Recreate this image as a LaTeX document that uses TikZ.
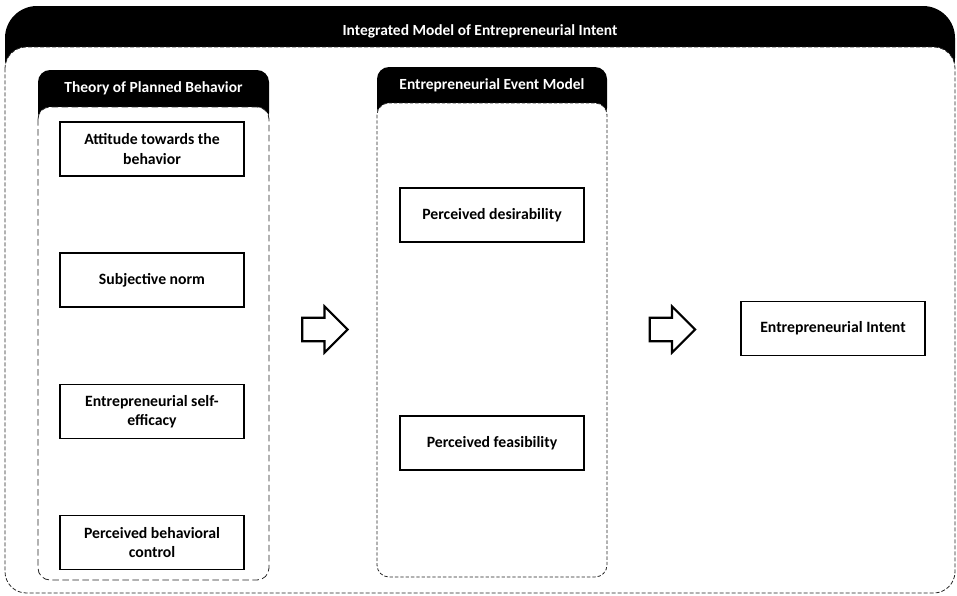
\documentclass[tikz,border=0pt]{standalone}
\usepackage{fontspec}
\setmainfont{Carlito}
\usetikzlibrary{shapes.arrows}
\tikzset{
  factor/.style={draw, line width=0.9pt, minimum width=138pt, minimum height=40.5pt,
    align=center, font=\bfseries\fontsize{11.8}{14.5}\selectfont, inner sep=2pt},
  headline/.style={text=white, font=\bfseries\fontsize{11.6}{14}\selectfont},
  frame/.style={draw=black!85, fill=white, line width=0.6pt},
  flow/.style={single arrow, draw, line width=1.6pt, fill=white, minimum height=34pt,
    inner xsep=0pt, inner ysep=8pt, single arrow head extend=8.5pt, single arrow tip angle=90},
}
\begin{document}
\begin{tikzpicture}[x=0.75pt, y=-0.75pt]
				\useasboundingbox (0,0) rectangle (957,596);
				% outer model
				\fill[rounded corners=24pt] (5,6) rectangle (955,90);
				\draw[frame, dash pattern=on 3pt off 1.5pt, rounded corners=16pt] (5,47) rectangle (955,593);
				\node[headline] (imei) at (480,31) {Integrated Model of Entrepreneurial Intent};
				% theory of planned behavior
				\fill[rounded corners=9pt] (38,70) rectangle (269,125);
				\draw[frame, dash pattern=on 5pt off 2.5pt, rounded corners=9pt] (38,107) rectangle (269,580);
				\node[headline] (tpb) at (153.5,88) {Theory of Planned Behavior};
				% entrepreneurial event model
				\fill[rounded corners=9pt] (377,67) rectangle (607,120);
				\draw[frame, dash pattern=on 2.5pt off 1.5pt, rounded corners=9pt] (377,103) rectangle (607,577);
				\node[headline] (eem) at (492,85) {Entrepreneurial Event Model};
				% factors
				\node[factor] (att) at (152,149) {Attitude towards the\\behavior};
				\node[factor] (norm) at (152,280) {Subjective norm};
				\node[factor] (self) at (152,411.5) {Entrepreneurial self-\\efficacy};
				\node[factor] (pbc) at (152,542.5) {Perceived behavioral\\control};
				\node[factor] (des) at (492,215) {Perceived desirability};
				\node[factor] (fea) at (492,443) {Perceived feasibility};
				\node[factor] (intent) at (833,328.5) {Entrepreneurial Intent};
				% arrows
				\node[flow] (to-eem) at (319,329.5) {};
				\node[flow] (to-intent) at (666.5,329.5) {};
\end{tikzpicture}
\end{document}
